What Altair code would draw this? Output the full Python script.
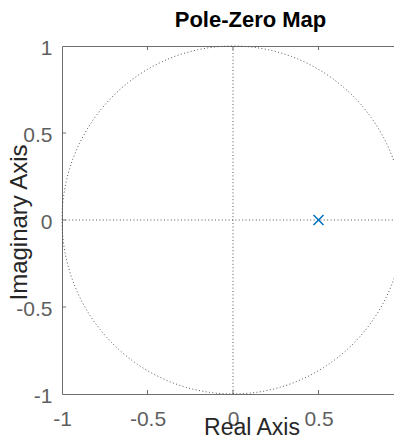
import altair as alt
import pandas as pd

# ---- data ----
pole_re = [0.5]
pole_im = [0.0]
zero_re = [1.0]
zero_im = [0.0]
x_ticks = [-1, -0.5, 0, 0.5, 1]
y_ticks = [-1, -0.5, 0, 0.5, 1]
inner_ticks = [-0.5, 0, 0.5]
origin = [0]

FONT = "Liberation Sans"
AX = "#6e6e6e"
LBL = "#5f5f5f"
DOT = "#555555"
BLUE = "#0072BD"

# the reference is cropped at the right edge, so the visible x range ends before 1
xs = alt.Scale(domain=[-1, 0.9415], nice=False, zero=False)
ys = alt.Scale(domain=[-1, 1], nice=False, zero=False)

x_axis = alt.Axis(
    orient="bottom", values=x_ticks, labelExpr="'' + datum.value",
    labelFont=FONT, labelFontSize=21, labelColor=LBL, labelPadding=31,
    labelBaseline="alphabetic", labelFlush=False, labelOverlap=False,
    ticks=False, domain=True, domainColor=AX, domainWidth=1, grid=False,
    title="Real Axis", titleFont=FONT, titleFontSize=23, titleFontWeight="normal",
    titleColor="#262626", titleX=189.5, titleY=40, titleAlign="center",
    titleBaseline="alphabetic",
)
y_axis = alt.Axis(
    orient="left", values=y_ticks, labelExpr="'' + datum.value",
    labelFont=FONT, labelFontSize=21, labelColor=LBL, labelPadding=10,
    labelBaseline="middle", labelAlign="right", labelOffset=2,
    labelFlush=False, labelOverlap=False,
    ticks=False, domain=True, domainColor=AX, domainWidth=1, grid=False,
    title="Imaginary Axis", titleFont=FONT, titleFontSize=24, titleFontWeight="normal",
    titleColor="#262626", titleX=-36, titleY=176, titleAlign="center",
    titleBaseline="alphabetic", titleAngle=270,
)
# top axis carries the chart title
top_axis = alt.Axis(orient="top", labels=False, ticks=False, domain=True,
                    domainColor=AX, domainWidth=1, grid=False,
                    title="Pole-Zero Map", titleFont=FONT, titleFontSize=22,
                    titleFontWeight="bold", titleColor="black",
                    titleX=188, titleY=-20, titleAlign="center",
                    titleBaseline="alphabetic")

# unit circle (pzmap reference grid)
circle = alt.Chart(alt.sequence(0, 362, 2, as_="deg")).transform_calculate(
    re="cos(datum.deg*PI/180)", im="sin(datum.deg*PI/180)"
).mark_line(color=DOT, strokeDash=[1, 2.4], strokeWidth=1).encode(
    x=alt.X("re:Q", scale=xs, axis=x_axis),
    y=alt.Y("im:Q", scale=ys, axis=y_axis),
    order="deg:Q",
)

odf = pd.DataFrame({"o": origin})
vline = alt.Chart(odf).mark_rule(color=DOT, strokeDash=[1, 2.4], strokeWidth=1).encode(
    x=alt.X("o:Q", scale=xs, axis=None),
    y=alt.Y(datum=-1, type="quantitative", scale=ys, axis=None),
    y2=alt.Y2(datum=1),
)
hline = alt.Chart(odf).mark_rule(color=DOT, strokeDash=[1, 2.4], strokeWidth=1).encode(
    y=alt.Y("o:Q", scale=ys, axis=None),
    x=alt.X(datum=-1, type="quantitative", scale=xs, axis=None),
    x2=alt.X2(datum=1),
)

poles = alt.Chart(pd.DataFrame({"re": pole_re, "im": pole_im})).mark_point(
    shape="M-1,-1L1,1M-1,1L1,-1", size=100, color=BLUE, strokeWidth=1.5,
    filled=False, opacity=1,
).encode(
    x=alt.X("re:Q", scale=xs, axis=None),
    y=alt.Y("im:Q", scale=ys, axis=None),
)
zeros = alt.Chart(pd.DataFrame({"re": zero_re, "im": zero_im})).mark_point(
    shape="circle", size=81, color=BLUE, strokeWidth=1.5, filled=False, opacity=1,
).encode(
    x=alt.X("re:Q", scale=xs, axis=None),
    y=alt.Y("im:Q", scale=ys, axis=None),
)

tdf = pd.DataFrame({"t": inner_ticks})
bottom_ticks = alt.Chart(tdf).mark_tick(orient="vertical", size=4, thickness=1,
                                        color=AX, yOffset=-2, opacity=1).encode(
    x=alt.X("t:Q", scale=xs, axis=None),
    y=alt.Y(datum=-1, type="quantitative", scale=ys, axis=None),
)
top_ticks = alt.Chart(tdf).mark_tick(orient="vertical", size=4, thickness=1,
                                     color=AX, yOffset=2, opacity=1).encode(
    x=alt.X("t:Q", scale=xs, axis=top_axis),
    y=alt.Y(datum=1, type="quantitative", scale=ys, axis=None),
)
left_ticks = alt.Chart(tdf).mark_tick(orient="horizontal", size=4, thickness=1,
                                      color=AX, xOffset=2, opacity=1).encode(
    y=alt.Y("t:Q", scale=ys, axis=None),
    x=alt.X(datum=-1, type="quantitative", scale=xs, axis=None),
)

chart = alt.layer(
    circle, vline, hline, bottom_ticks, top_ticks, left_ticks, poles, zeros
).resolve_axis(x="independent", y="independent").properties(
    width=332, height=348,
    padding={"left": 54, "top": 38, "right": 0, "bottom": 41},
    autosize=alt.AutoSizeParams(type="none"),
).configure_view(stroke=None).configure(background="white")

chart.save("out.html", embed_options={"renderer": "svg", "actions": False})
